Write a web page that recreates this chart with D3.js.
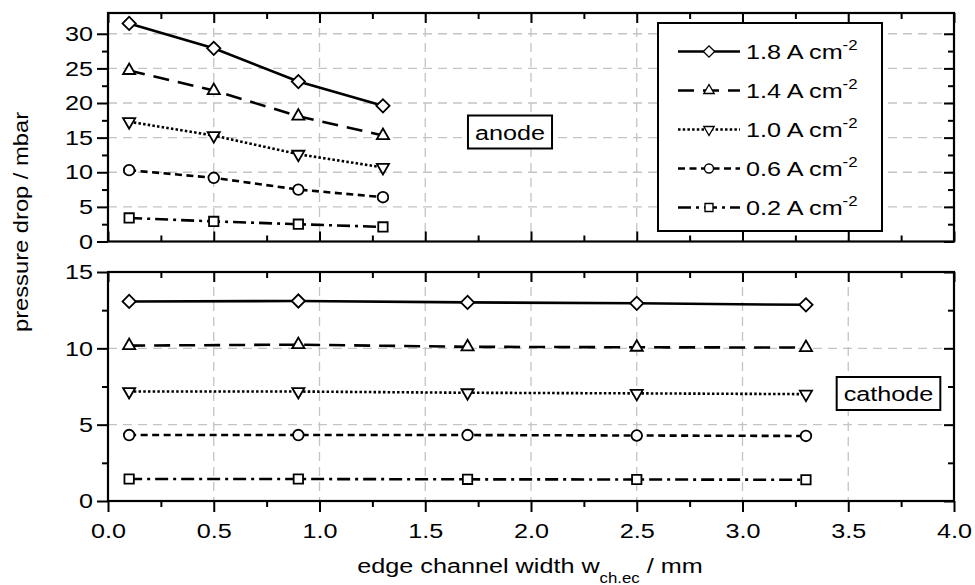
<!DOCTYPE html>
<html>
<head>
<meta charset="utf-8">
<script src="https://cdn.jsdelivr.net/npm/d3@7"></script>
<style>
  body { margin: 0; background: #fff; }
  text { font-family: "Liberation Sans", Arial, sans-serif; fill: #000; }
</style>
</head>
<body>
<div id="chart"></div>
<script>
// ── data ─────────────────────────────────────────────────
const xAnode   = [0.1, 0.5, 0.9, 1.3];
const xCathode = [0.1, 0.9, 1.7, 2.5, 3.3];
const currents = ["1.8", "1.4", "1.0", "0.6", "0.2"];

const anode18 = [31.5, 27.9, 23.1, 19.6];
const anode14 = [24.7, 21.8, 18.1, 15.3];
const anode10 = [17.3, 15.3, 12.6, 10.7];
const anode06 = [10.3, 9.2, 7.5, 6.4];
const anode02 = [3.4, 2.9, 2.5, 2.1];

const cathode18 = [13.07, 13.10, 13.01, 12.95, 12.85];
const cathode14 = [10.18, 10.24, 10.10, 10.07, 10.05];
const cathode10 = [7.17, 7.17, 7.09, 7.05, 7.00];
const cathode06 = [4.32, 4.32, 4.32, 4.29, 4.26];
const cathode02 = [1.44, 1.44, 1.42, 1.41, 1.39];

const xTicks       = [0, 0.5, 1, 1.5, 2, 2.5, 3, 3.5, 4];
const anodeTicks   = [0, 5, 10, 15, 20, 25, 30];
const cathodeTicks = [0, 5, 10, 15];

// ── layout ───────────────────────────────────────────────
const width = 975, height = 585;
const SX = 1.2;          // the source text is stretched sideways
const FS = 21;

const svg = d3.select("#chart").append("svg")
    .attr("width", width).attr("height", height);

const x  = d3.scaleLinear().domain([0, 4]).range([108, 954]);
const yA = d3.scaleLinear().domain([0, 33]).range([241.5, 13]);
const yC = d3.scaleLinear().domain([0, 15]).range([501, 272]);

const styles = [
    { dash: null,          sym: "diamond" },
    { dash: "16,9",        sym: "up" },
    { dash: "2.5,2.2",     sym: "down" },
    { dash: "7,4.5",       sym: "circle" },
    { dash: "13,5,3,5",    sym: "square" }
];

function symbolPath(sym) {
    if (sym === "diamond") return d3.symbol(d3.symbolSquare, 88)();
    if (sym === "up" || sym === "down") return d3.symbol(d3.symbolTriangle, 64)();
    if (sym === "circle") return d3.symbol(d3.symbolCircle, 88)();
    return d3.symbol(d3.symbolSquare, 88)();
}
function symbolRot(sym) {
    return sym === "diamond" ? 45 : sym === "down" ? 180 : 0;
}

function minorsOf(ticks, step) {
    const out = [];
    for (let i = 0; i < ticks.length - 1; i++) out.push(ticks[i] + step);
    return out;
}

// one axis per <g>, otherwise the second call rebinds the first one's ticks
function axisAt(parent, tx, ty, axis) {
    return parent.append("g").attr("transform", `translate(${tx},${ty})`).call(axis);
}

function drawPanel(y, yTicks, yMinor, xs, seriesList, isBottom) {
    const [y0, y1] = y.range();
    const [x0, x1] = x.range();
    const g = svg.append("g");

    // grid
    g.append("g").selectAll("line").data(xTicks.slice(1, -1)).join("line")
        .attr("x1", d => x(d)).attr("x2", d => x(d))
        .attr("y1", y1).attr("y2", y0)
        .attr("stroke", "#c4c4c4").attr("stroke-width", 1.3)
        .attr("stroke-dasharray", "9,6");
    g.append("g").selectAll("line").data(yTicks.slice(1).filter(d => y(d) > y1 + 2)).join("line")
        .attr("x1", x0).attr("x2", x1)
        .attr("y1", d => y(d)).attr("y2", d => y(d))
        .attr("stroke", "#c4c4c4").attr("stroke-width", 1.3)
        .attr("stroke-dasharray", "9,6");

    // series
    const line = d3.line().x((d, i) => x(xs[i])).y(d => y(d));
    seriesList.forEach((vals, k) => {
        const st = styles[k];
        g.append("path").datum(vals)
            .attr("d", line)
            .attr("fill", "none").attr("stroke", "#000").attr("stroke-width", 2.6)
            .attr("stroke-dasharray", st.dash);
        g.append("g").selectAll("path").data(vals).join("path")
            .attr("d", symbolPath(st.sym))
            .attr("transform", (d, i) => `translate(${x(xs[i])},${y(d)}) rotate(${symbolRot(st.sym)})`)
            .attr("fill", "#fff").attr("stroke", "#000").attr("stroke-width", 1.8);
    });

    const xMinor = minorsOf(xTicks, 0.25);
    const noLab = () => "";
    const ax = g.append("g");

    // left axis (outward, labelled)
    const left = axisAt(ax, x0, 0, d3.axisLeft(y).tickValues(yTicks).tickSize(11).tickFormat(d3.format("d")));
    axisAt(ax, x0, 0, d3.axisLeft(y).tickValues(yMinor).tickSize(6).tickFormat(noLab));
    left.selectAll("text").attr("x", -15 / SX).attr("transform", `scale(${SX},1)`)
        .style("font-size", FS + "px");

    // right axis (inward)
    axisAt(ax, x1, 0, d3.axisLeft(y).tickValues(yTicks).tickSize(10).tickFormat(noLab));
    axisAt(ax, x1, 0, d3.axisLeft(y).tickValues(yMinor).tickSize(6).tickFormat(noLab));

    // top axis (inward)
    axisAt(ax, 0, y1, d3.axisBottom(x).tickValues(xTicks).tickSize(10).tickFormat(noLab));
    axisAt(ax, 0, y1, d3.axisBottom(x).tickValues(xMinor).tickSize(6).tickFormat(noLab));

    // bottom axis
    if (isBottom) {
        const bot = axisAt(ax, 0, y0, d3.axisBottom(x).tickValues(xTicks).tickSize(11).tickFormat(d3.format(".1f")));
        axisAt(ax, 0, y0, d3.axisBottom(x).tickValues(xMinor).tickSize(6).tickFormat(noLab));
        bot.selectAll("text").attr("y", 22).attr("transform", `scale(${SX},1)`)
            .style("font-size", FS + "px");
    } else {
        axisAt(ax, 0, y0, d3.axisTop(x).tickValues(xTicks).tickSize(10).tickFormat(noLab));
        axisAt(ax, 0, y0, d3.axisTop(x).tickValues(xMinor).tickSize(6).tickFormat(noLab));
    }
    ax.selectAll("g").attr("font-family", null).attr("font-size", null);
    ax.selectAll(".domain").remove();
    ax.selectAll(".tick line").attr("stroke", "#000").attr("stroke-width", 2);
    ax.selectAll(".tick text").attr("fill", "#000");

    // frame
    g.append("rect").attr("x", x0).attr("y", y1).attr("width", x1 - x0).attr("height", y0 - y1)
        .attr("fill", "none").attr("stroke", "#000").attr("stroke-width", 2.2);
    return g;
}

drawPanel(yA, anodeTicks, minorsOf(anodeTicks, 2.5), xAnode,
    [anode18, anode14, anode10, anode06, anode02], false);
drawPanel(yC, cathodeTicks, minorsOf(cathodeTicks, 2.5), xCathode,
    [cathode18, cathode14, cathode10, cathode06, cathode02], true);

// boxed panel labels
function boxLabel(str, cx, cy) {
    const wrap = svg.append("g");
    wrap.append("text")
        .attr("transform", `translate(${cx},${cy + FS * 0.36}) scale(${SX},1)`)
        .attr("text-anchor", "middle").style("font-size", FS + "px").text(str);
    const b = wrap.node().getBBox();
    wrap.insert("rect", "text")
        .attr("x", b.x - 7).attr("y", cy - 16.5).attr("width", b.width + 14).attr("height", 33)
        .attr("fill", "#fff").attr("stroke", "#000").attr("stroke-width", 2);
}
boxLabel("anode", 510, 132);
boxLabel("cathode", 888.5, 393.5);

// legend
const legend = svg.append("g");
legend.append("rect").attr("x", 658).attr("y", 23).attr("width", 224).attr("height", 208)
    .attr("fill", "#fff").attr("stroke", "#000").attr("stroke-width", 2);
currents.forEach((c, i) => {
    const st = styles[i];
    const ry = 51.5 + i * 39;
    const row = legend.append("g").attr("transform", `translate(0,${ry})`);
    row.append("line").attr("x1", 678).attr("x2", 740).attr("y1", 0).attr("y2", 0)
        .attr("stroke", "#000").attr("stroke-width", 2.6).attr("stroke-dasharray", st.dash);
    row.append("path").attr("d", symbolPath(st.sym))
        .attr("transform", `translate(709,0) rotate(${symbolRot(st.sym)}) scale(0.85)`)
        .attr("fill", "#fff").attr("stroke", "#000").attr("stroke-width", 1.6);
    const t = row.append("text").attr("transform", `translate(746,${FS * 0.36}) scale(${SX},1)`)
        .style("font-size", FS + "px");
    t.append("tspan").text(`${c} A cm`);
    t.append("tspan").attr("dy", -9).style("font-size", "14px").text("-2");
});

// axis titles
svg.append("text")
    .attr("transform", `translate(28,222) rotate(-90) scale(1.13,1)`)
    .attr("text-anchor", "middle").style("font-size", FS + "px")
    .text("pressure drop / mbar");

const xt = svg.append("text")
    .attr("transform", `translate(530,573) scale(${SX},1)`)
    .attr("text-anchor", "middle").style("font-size", FS + "px");
xt.append("tspan").text("edge channel width w");
xt.append("tspan").attr("dy", 10).style("font-size", "14px").text("ch.ec");
xt.append("tspan").attr("dy", -10).text(" / mm");
</script>
</body>
</html>
